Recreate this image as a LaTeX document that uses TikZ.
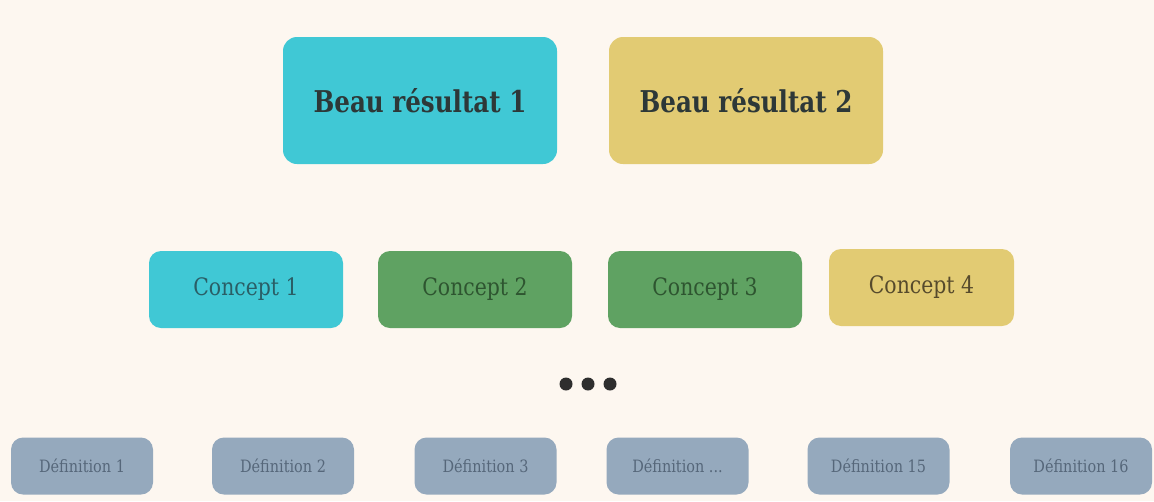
\documentclass[tikz,border=0pt]{standalone}
\usepackage{fontspec}
\setmainfont{DejaVu Serif}
\newfontfamily\titlefont[FakeStretch=0.82]{DejaVu Serif}
\newfontfamily\condfont[FakeStretch=0.85]{DejaVu Serif}
\definecolor{bg}{HTML}{FDF7F0}
\definecolor{cyanbox}{HTML}{40C8D5}
\definecolor{yellowbox}{HTML}{E2CB73}
\definecolor{greenbox}{HTML}{5FA262}
\definecolor{greybox}{HTML}{95A9BD}
\definecolor{darktext}{HTML}{2D3838}
\definecolor{cyantext}{HTML}{2A5E66}
\definecolor{greentext}{HTML}{2E5530}
\definecolor{yellowtext}{HTML}{564A2C}
\definecolor{greytext}{HTML}{56677A}
\definecolor{dotcol}{HTML}{2E2E2E}
\tikzset{
  bigbox/.style={rectangle, rounded corners=14pt, minimum width=274pt, minimum height=127pt, inner sep=0pt, font=\titlefont\bfseries\fontsize{30}{36}\selectfont, text=darktext},
  conceptbox/.style={rectangle, rounded corners=12pt, minimum height=77pt, inner sep=0pt, font=\condfont\fontsize{24}{29}\selectfont},
  defbox/.style={rectangle, rounded corners=12pt, fill=greybox, minimum width=142pt, minimum height=57pt, inner sep=0pt, font=\condfont\fontsize{17}{20}\selectfont, text=greytext},
  dotmark/.style={circle, fill=dotcol, minimum size=13pt, inner sep=0pt}
}
\begin{document}
\begin{tikzpicture}[x=1pt,y=-1pt]
\fill[bg] (0,0) rectangle (1154,501);
\useasboundingbox (0,0) rectangle (1154,501);
\node[bigbox, fill=cyanbox] (r1) at (420,100.5) {Beau résultat 1};
\node[bigbox, fill=yellowbox] (r2) at (746,100.5) {Beau résultat 2};
\node[conceptbox, fill=cyanbox, text=cyantext, minimum width=194pt] (c1) at (246,289.5) {Concept 1};
\node[conceptbox, fill=greenbox, text=greentext, minimum width=194pt] (c2) at (475,289.5) {Concept 2};
\node[conceptbox, fill=greenbox, text=greentext, minimum width=194pt] (c3) at (705,289.5) {Concept 3};
\node[conceptbox, fill=yellowbox, text=yellowtext, minimum width=185pt] (c4) at (921.5,287.5) {Concept 4};
\node[dotmark] (d1) at (566,384) {};
\node[dotmark] (d2) at (588,384) {};
\node[dotmark] (d3) at (610,384) {};
\node[defbox] (f1) at (82,466) {Définition 1};
\node[defbox] (f2) at (283,466) {Définition 2};
\node[defbox] (f3) at (485.5,466) {Définition 3};
\node[defbox] (f4) at (677.5,466) {Définition ...};
\node[defbox] (f5) at (878.5,466) {Définition 15};
\node[defbox] (f6) at (1081,466) {Définition 16};
\end{tikzpicture}
\end{document}
